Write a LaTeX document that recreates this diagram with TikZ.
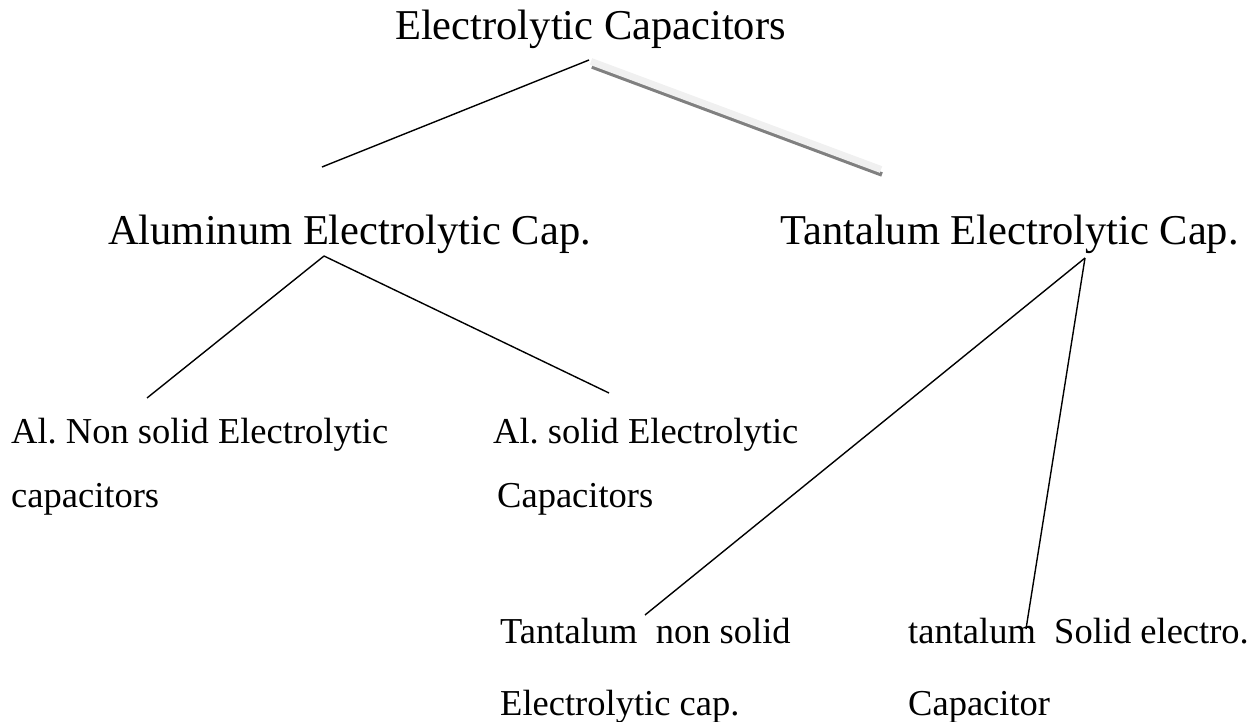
\documentclass[tikz,border=0pt]{standalone}
\usepackage{fontspec}
\setmainfont{Liberation Serif}
\frenchspacing
\begin{document}
\begin{tikzpicture}[x=1pt,y=-1pt,
  big/.style={anchor=base west,inner sep=0pt,font=\fontsize{42.5}{50}\selectfont},
  small/.style={anchor=base west,inner sep=0pt,font=\fontsize{36.5}{44}\selectfont},
  link/.style={draw=black,line width=1.4pt},
  shadowline/.style={line width=4.5pt,draw=black!50},
  lightline/.style={line width=7pt,draw=black!6}]
\useasboundingbox (0,0) rectangle (1251,722);
% texts
\node[big] (title) at (395,40) {Electrolytic Capacitors};
\node[big] (alu) at (108,245) {Aluminum Electrolytic Cap.};
\node[big] (tan) at (780,245) {Tantalum Electrolytic Cap.};
\node[small] (aln1) at (11,443) {Al. Non solid Electrolytic};
\node[small] (aln2) at (11,507) {capacitors};
\node[small] (als1) at (493,443) {Al. solid Electrolytic};
\node[small] (als2) at (497,507) {Capacitors};
\node[small] (tn1) at (500,643) {Tantalum\ \ non solid};
\node[small] (tn2) at (500,715) {Electrolytic cap.};
\node[small] (ts1) at (908,643) {tantalum\ \ Solid electro.};
\node[small] (ts2) at (908,715) {Capacitor};
% connector end points
\coordinate (tA) at (589,60);
\coordinate (aT) at (322,167);
\coordinate (gS) at (591,63);
\coordinate (gE) at (881,171);
\coordinate (aApex) at (324,256);
\coordinate (aL) at (147,398);
\coordinate (aR) at (609,393);
\coordinate (tApex) at (1085,258);
\coordinate (tL) at (645,615);
\coordinate (tR) at (1026,629);
% connectors
\draw[link] (tA) -- (aT);
\draw[shadowline] ([shift={(1,3.5)}]gS) -- ([shift={(1,3.5)}]gE);
\draw[lightline] ([shift={(0,-1.5)}]gS) -- ([shift={(0,-1.5)}]gE);
\draw[link] (aApex) -- (aL);
\draw[link] (aApex) -- (aR);
\draw[link] (tApex) -- (tL);
\draw[link] (tApex) -- (tR);
\end{tikzpicture}
\end{document}
